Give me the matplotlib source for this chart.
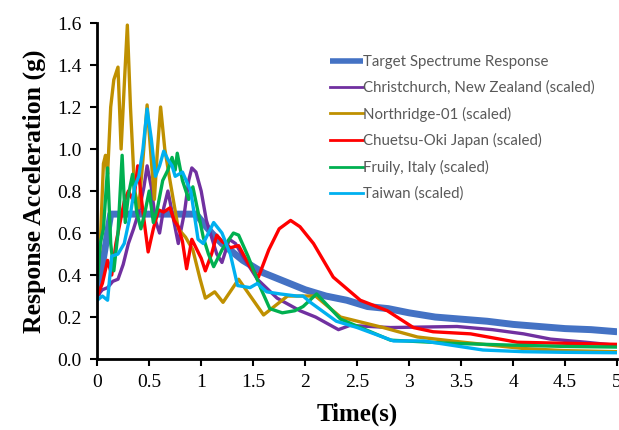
import matplotlib
matplotlib.use("Agg")
import matplotlib.pyplot as plt

# target spectrum
t_target = [0, 0.05, 0.1, 0.13, 0.2, 0.3, 0.4, 0.5, 0.6, 0.7, 0.8, 0.9, 0.95, 1.0, 1.1, 1.2,
            1.3, 1.4, 1.5, 1.6, 1.8, 2.0, 2.2, 2.4, 2.6, 2.8, 3.0, 3.25, 3.5, 3.75, 4.0,
            4.25, 4.5, 4.75, 5.0]
a_target = [0.30, 0.45, 0.60, 0.69, 0.69, 0.69, 0.69, 0.69, 0.69, 0.69, 0.69, 0.69, 0.69, 0.66,
            0.60, 0.55, 0.51, 0.47, 0.44, 0.41, 0.37, 0.33, 0.30, 0.28, 0.25, 0.24, 0.22,
            0.20, 0.19, 0.18, 0.165, 0.155, 0.145, 0.14, 0.13]

t_christ = [0, 0.05, 0.1, 0.15, 0.2, 0.25, 0.3, 0.35, 0.4, 0.45, 0.48, 0.52, 0.56, 0.6, 0.64,
            0.68, 0.72, 0.78, 0.84, 0.88, 0.91, 0.95, 1.0, 1.05, 1.1, 1.15, 1.2, 1.27, 1.33,
            1.4, 1.54, 1.73, 1.95, 2.1, 2.32, 2.43, 2.82, 3.46, 3.8, 4.1, 4.36, 4.7, 5.0]
a_christ = [0.30, 0.33, 0.34, 0.37, 0.38, 0.45, 0.55, 0.62, 0.70, 0.82, 0.92, 0.82, 0.66, 0.60,
            0.72, 0.80, 0.70, 0.55, 0.70, 0.85, 0.91, 0.89, 0.80, 0.66, 0.58, 0.50, 0.46, 0.57,
            0.55, 0.49, 0.38, 0.29, 0.23, 0.20, 0.14, 0.16, 0.15, 0.155, 0.14, 0.12, 0.095,
            0.08, 0.065]

t_north = [0, 0.03, 0.06, 0.08, 0.1, 0.13, 0.16, 0.2, 0.23, 0.26, 0.29, 0.32, 0.36, 0.4, 0.44,
           0.48, 0.52, 0.55, 0.58, 0.61, 0.65, 0.7, 0.78, 0.85, 0.92, 0.99, 1.04, 1.13, 1.21,
           1.36, 1.6, 1.83, 2.05, 2.1, 2.34, 2.75, 3.08, 3.52, 4.1, 4.5, 5.0]
a_north = [0.40, 0.55, 0.93, 0.97, 0.88, 1.20, 1.33, 1.39, 1.00, 1.30, 1.59, 1.20, 0.80, 0.72,
           0.95, 1.21, 0.95, 0.76, 1.00, 1.20, 1.00, 0.85, 0.62, 0.58, 0.52, 0.38, 0.29, 0.32,
           0.27, 0.38, 0.21, 0.30, 0.30, 0.30, 0.20, 0.15, 0.105, 0.08, 0.05, 0.04, 0.035]

t_chuetsu = [0, 0.05, 0.1, 0.14, 0.18, 0.22, 0.26, 0.3, 0.35, 0.39, 0.44, 0.49, 0.54, 0.59,
             0.64, 0.7, 0.74, 0.78, 0.82, 0.86, 0.91, 0.95, 1.0, 1.04, 1.1, 1.15, 1.2, 1.28,
             1.36, 1.47, 1.55, 1.65, 1.75, 1.86, 1.95, 2.08, 2.27, 2.53, 2.79, 3.04, 3.23,
             3.59, 4.04, 4.5, 5.0]
a_chuetsu = [0.30, 0.36, 0.47, 0.40, 0.55, 0.65, 0.75, 0.80, 0.75, 0.92, 0.70, 0.51, 0.62,
             0.71, 0.70, 0.72, 0.66, 0.63, 0.56, 0.43, 0.57, 0.53, 0.48, 0.42, 0.50, 0.59,
             0.56, 0.53, 0.54, 0.44, 0.39, 0.52, 0.62, 0.66, 0.63, 0.55, 0.39, 0.28, 0.23,
             0.15, 0.13, 0.12, 0.08, 0.075, 0.07]

t_fruily = [0, 0.03, 0.06, 0.1, 0.13, 0.16, 0.2, 0.24, 0.27, 0.3, 0.34, 0.38, 0.42, 0.46, 0.5,
            0.54, 0.58, 0.63, 0.68, 0.72, 0.75, 0.77, 0.82, 0.88, 0.92, 0.97, 1.02, 1.07, 1.12,
            1.2, 1.31, 1.36, 1.45, 1.57, 1.66, 1.78, 1.9, 1.98, 2.11, 2.34, 2.82, 3.4, 3.94,
            4.5, 5.0]
a_fruily = [0.35, 0.55, 0.62, 0.91, 0.55, 0.42, 0.60, 0.97, 0.65, 0.78, 0.88, 0.70, 0.62, 0.70,
            0.80, 0.65, 0.72, 0.85, 0.90, 0.96, 0.90, 0.98, 0.85, 0.76, 0.82, 0.70, 0.58, 0.50,
            0.44, 0.52, 0.60, 0.59, 0.49, 0.34, 0.24, 0.22, 0.23, 0.25, 0.31, 0.19, 0.09,
            0.075, 0.067, 0.06, 0.057]

t_taiwan = [0, 0.05, 0.1, 0.14, 0.2, 0.26, 0.32, 0.36, 0.4, 0.44, 0.48, 0.52, 0.56, 0.6, 0.64,
            0.68, 0.72, 0.75, 0.82, 0.9, 0.97, 1.02, 1.12, 1.2, 1.28, 1.35, 1.47, 1.54, 1.63,
            1.76, 1.92, 1.98, 2.05, 2.3, 2.5, 2.85, 3.14, 3.71, 4.1, 4.5, 5.0]
a_taiwan = [0.28, 0.30, 0.28, 0.49, 0.50, 0.55, 0.69, 0.82, 0.87, 1.00, 1.19, 1.05, 0.87, 0.92,
            0.99, 0.95, 0.92, 0.87, 0.89, 0.80, 0.57, 0.55, 0.65, 0.60, 0.50, 0.35, 0.34, 0.36,
            0.32, 0.31, 0.30, 0.30, 0.27, 0.18, 0.15, 0.086, 0.086, 0.043, 0.035, 0.032, 0.03]

series = [
    (t_christ, a_christ, "#7030A0", "Christchurch, New Zealand (scaled)"),
    (t_north, a_north, "#BF9000", "Northridge-01 (scaled)"),
    (t_chuetsu, a_chuetsu, "#FF0000", "Chuetsu-Oki Japan (scaled)"),
    (t_fruily, a_fruily, "#00B050", "Fruily, Italy (scaled)"),
    (t_taiwan, a_taiwan, "#00B0F0", "Taiwan (scaled)"),
]

fig = plt.figure(figsize=(6.19, 4.30), dpi=100)
ax = fig.add_axes([0.157, 0.165, 0.84, 0.7815])

ax.plot(t_target, a_target, color="#4472C4", lw=5, solid_capstyle="butt",
        label="Target Spectrume Response")
for t, a, c, name in series:
    ax.plot(t, a, color=c, lw=2.4, solid_joinstyle="round", label=name)

ax.set_xlim(0, 5)
ax.set_ylim(0, 1.6)
ax.set_xticks([0, 0.5, 1, 1.5, 2, 2.5, 3, 3.5, 4, 4.5, 5])
ax.set_xticklabels(["0", "0.5", "1", "1.5", "2", "2.5", "3", "3.5", "4", "4.5", "5"])
ax.set_yticks([0.2 * i for i in range(9)])
ax.set_yticklabels(["%.1f" % (0.2 * i) for i in range(9)])

serif = "Liberation Serif"
for lab in ax.get_xticklabels() + ax.get_yticklabels():
    lab.set_fontfamily(serif)
    lab.set_fontsize(14)

ax.spines["top"].set_visible(False)
ax.spines["right"].set_visible(False)
ax.spines["left"].set_linewidth(2)
ax.spines["bottom"].set_linewidth(2)
ax.tick_params(direction="out", length=5, width=1.5, pad=6)

ax.set_xlabel("Time(s)", fontfamily=serif, fontweight="bold", fontsize=18, labelpad=8)
ax.set_ylabel("Response Acceleration (g)", fontfamily=serif, fontweight="bold",
              fontsize=18.5, labelpad=8)

leg = ax.legend(loc="upper left", bbox_to_anchor=(0.437, 0.922), frameon=False,
                prop={"family": "Lato", "size": 10.8}, handlelength=2.15,
                handletextpad=0.05, labelspacing=0.77, borderaxespad=0)
for txt in leg.get_texts():
    txt.set_color("#595959")
for ln in leg.get_lines():
    ln.set_linewidth(2)
leg.get_lines()[0].set_linewidth(4)

fig.savefig("out.png", dpi=100)
